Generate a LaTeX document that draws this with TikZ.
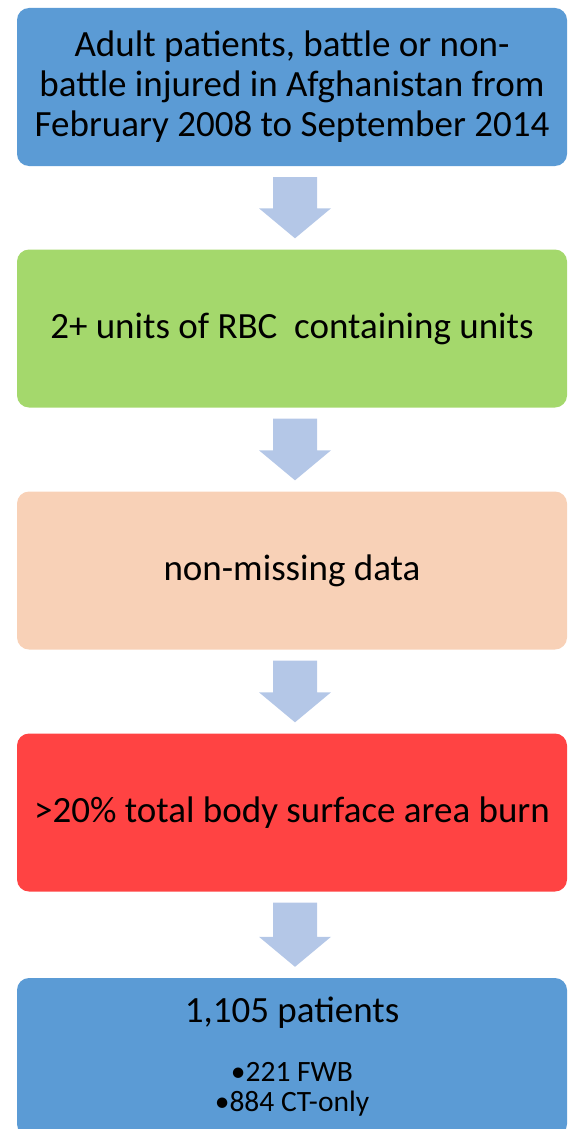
\documentclass[tikz,border=0pt]{standalone}
\usepackage{fontspec}
\setmainfont{Carlito}
\usetikzlibrary{calc}
\definecolor{boxblue}{HTML}{5B9BD5}
\definecolor{boxgreen}{HTML}{A4D86C}
\definecolor{boxpeach}{HTML}{F8D1B7}
\definecolor{boxred}{HTML}{FF4343}
\definecolor{arrowfill}{HTML}{B4C7E7}
\newcommand\flowarrow[2]{%
  \fill[arrowfill] ($(#1.south)+(-19,-11)$) -- ($(#1.south)+(25,-11)$)
    -- ($(#2.north)+(25,41)$) -- ($(#2.north)+(39,41)$)
    -- ($(#2.north)+(3,11)$) -- ($(#2.north)+(-33,41)$)
    -- ($(#2.north)+(-19,41)$) -- cycle;}
\newcommand\subfont{\fontsize{29.5}{30}\selectfont}
\begin{document}
\begin{tikzpicture}[x=1pt,y=1pt,
  flowbox/.style={rounded corners=12pt, minimum width=550pt, minimum height=158pt,
    inner sep=0pt, align=center, text=black, font=\fontsize{37}{40}\selectfont}]
\useasboundingbox (0,0) rectangle (568,-1129);
\clip (0,0) rectangle (568,-1129);
\node[flowbox, fill=boxblue] (b1) at (292,-87) {Adult patients, battle or non-\\battle injured in Afghanistan from\\February 2008 to September 2014};
\node[flowbox, fill=boxgreen] (b2) at (292,-328.5) {2+ units of RBC\ \ containing units};
\node[flowbox, fill=boxpeach] (b3) at (292,-570.5) {non-missing data};
\node[flowbox, fill=boxred] (b4) at (292,-812.5) {>20\% total body surface area burn};
\node[flowbox, fill=boxblue] (b5) at (292,-1057) {1,105 patients\\[19pt]
  {\subfont •221 FWB}\\[-10pt]
  {\subfont •884 CT-only}};
\flowarrow{b1}{b2}
\flowarrow{b2}{b3}
\flowarrow{b3}{b4}
\flowarrow{b4}{b5}
\end{tikzpicture}
\end{document}
